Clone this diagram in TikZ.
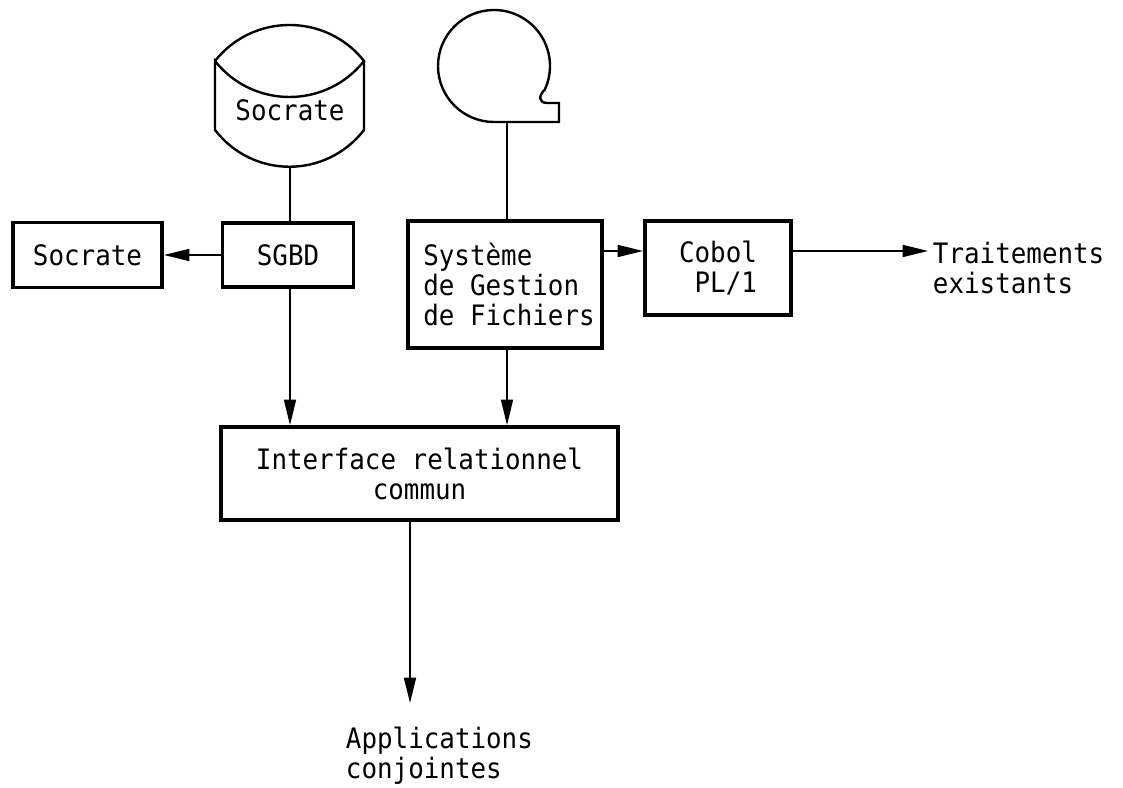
\documentclass[tikz,border=0pt]{standalone}
\usepackage{fontspec}
\setmonofont[FakeStretch=0.92]{DejaVu Sans Mono}
\usetikzlibrary{arrows.meta}

\tikzset{
    texte/.style={font=\ttfamily\fontsize{20}{21.3}\selectfont},
    bloc/.style={texte, draw, line width=2.8pt, align=left, inner sep=0pt},
    fleche/.style={-{Triangle[length=18pt,width=8.5pt]}, line width=1.3pt},
    trait/.style={line width=1.3pt},
    contour/.style={line width=1.7pt}
}

\begin{document}
\begin{tikzpicture}[x=0.025cm,y=0.025cm]
            \useasboundingbox (0,0) rectangle (1123,788);

            % Disque Socrate
            \draw[contour] (215,727) .. controls (253,775) and (326,775) .. (364,727)
                .. controls (326,679) and (253,679) .. (215,727) -- (215,658)
                .. controls (253,609) and (326,609) .. (364,658) -- (364,727);
            \node[texte] (socdisque) at (290,678) {Socrate};
            \coordinate (disque) at (290,621);

            % Bande magnetique
            \draw[contour] (494,666) arc[start angle=-90, end angle=-385, radius=56]
                .. controls (538,692) and (539,685) .. (547,685) -- (559,685) -- (559,666) -- cycle;
            \coordinate (bande) at (507,666);

            % Blocs
            \node[bloc, minimum width=3.725cm, minimum height=1.625cm] (socrate) at (87.5,533) {Socrate};
            \node[bloc, minimum width=3.275cm, minimum height=1.6cm] (sgbd) at (288,533) {SGBD};
            \node[bloc, minimum width=4.85cm, minimum height=3.175cm] (sgf) at (505,503.5) {\hspace{0.2cm}Système\\\hspace{0.2cm}de Gestion\\\hspace{0.2cm}de Fichiers};
            \node[bloc, minimum width=3.65cm, minimum height=2.35cm] (cobol) at (718,520) {Cobol\\\hphantom{C}PL/1};
            \node[bloc, align=center, minimum width=9.925cm, minimum height=2.325cm] (interface) at (419.5,314.5) {Interface relationnel\\commun};

            % Textes libres
            \node[texte, anchor=west, align=left] (traitements) at (928,520) {Traitements\\existants};
            \node[texte, anchor=north west, align=left] (applis) at (341,66) {Applications\\conjointes};
            \coordinate (rangee) at (0,537);
            \coordinate (sortie) at (410,85);

            % Liaisons
            \draw[trait] (disque) -- (sgbd.north -| disque);
            \draw[trait] (bande) -- (sgf.north -| bande);
            \draw[fleche] (sgbd.west) -- (socrate.east);
            \draw[fleche] (sgf.east |- rangee) -- (cobol.west |- rangee);
            \draw[fleche] (cobol.east |- rangee) -- (traitements.west |- rangee);
            \draw[fleche] (sgbd.south -| disque) -- (interface.north -| disque);
            \draw[fleche] (sgf.south -| bande) -- (interface.north -| bande);
            \draw[fleche] (interface.south -| sortie) -- (sortie);

        \end{tikzpicture}
\end{document}
